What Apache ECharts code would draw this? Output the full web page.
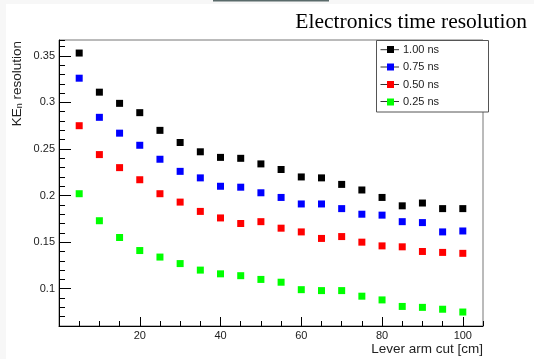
<!DOCTYPE html>
<html>
<head>
<meta charset="utf-8">
<script src="https://cdn.jsdelivr.net/npm/echarts@6/dist/echarts.min.js"></script>
<style>
  html, body { margin: 0; padding: 0; background: #fff; }
  #chart { width: 534px; height: 359px; }
</style>
</head>
<body>
<div id="chart"></div>
<script>
// lever arm cut values [cm]
const cuts = [5, 10, 15, 20, 25, 30, 35, 40, 45, 50, 55, 60, 65, 70, 75, 80, 85, 90, 95, 100];

// KE_n resolution for each electronics time resolution
const res100 = [0.353, 0.311, 0.299, 0.289, 0.270, 0.257, 0.247, 0.241, 0.240, 0.234, 0.228, 0.220, 0.219, 0.212, 0.206, 0.198, 0.189, 0.192, 0.186, 0.186];
const res075 = [0.326, 0.284, 0.267, 0.254, 0.239, 0.226, 0.219, 0.210, 0.209, 0.203, 0.198, 0.191, 0.191, 0.186, 0.180, 0.179, 0.172, 0.171, 0.161, 0.162];
const res050 = [0.275, 0.244, 0.230, 0.217, 0.202, 0.193, 0.183, 0.176, 0.170, 0.172, 0.165, 0.161, 0.154, 0.156, 0.150, 0.146, 0.145, 0.140, 0.139, 0.138];
const res025 = [0.202, 0.173, 0.155, 0.141, 0.134, 0.127, 0.120, 0.116, 0.114, 0.110, 0.107, 0.099, 0.098, 0.098, 0.092, 0.088, 0.081, 0.080, 0.078, 0.075];

const seriesNames = ['1.00 ns', '0.75 ns', '0.50 ns', '0.25 ns'];
const seriesColors = ['#000000', '#0000ff', '#ff0000', '#00ff00'];
const seriesValues = [res100, res075, res050, res025];

const sans = 'Liberation Sans, Arial, Helvetica, sans-serif';

const chart = echarts.init(document.getElementById('chart'));

// legend rows (y centres) for the little line through each marker
const legendRows = [49.7, 67, 84.5, 101.5];

const option = {
    animation: false,
    backgroundColor: '#fff',
    title: {
        text: 'Electronics time resolution',
        right: 7,
        top: 11,
        padding: 0,
        textStyle: { fontFamily: 'Liberation Serif, Times New Roman, serif', fontSize: 21.5, fontWeight: 'normal', color: '#000' }
    },
    grid: {
        left: 59, right: 51, top: 40, bottom: 33,
        show: true, borderColor: '#777', borderWidth: 1, backgroundColor: 'transparent'
    },
    legend: {
        orient: 'vertical',
        left: 387,
        top: 43.5,
        padding: 0,
        itemGap: 5.5,
        itemWidth: 7,
        itemHeight: 7,
        icon: 'rect',
        z: 5,
        textStyle: { fontFamily: sans, fontSize: 11, color: '#222', lineHeight: 12, padding: [0, 0, 0, 4] },
        data: seriesNames
    },
    xAxis: [
        {
            type: 'value', min: 0, max: 105, interval: 20,
            axisLine: { lineStyle: { color: '#000', width: 1 } },
            axisTick: { inside: true, length: 9, lineStyle: { color: '#000' } },
            axisLabel: { showMinLabel: false, showMaxLabel: false, margin: 4, fontFamily: sans, fontSize: 11, color: '#222' },
            splitLine: { show: false }
        },
        {
            // minor ticks every 5 cm
            type: 'value', min: 0, max: 105, interval: 5, position: 'bottom',
            axisLine: { show: false },
            axisTick: { inside: true, length: 5, lineStyle: { color: '#000' } },
            axisLabel: { show: false },
            splitLine: { show: false }
        }
    ],
    yAxis: [
        {
            type: 'value', min: 0.06, max: 0.367,
            axisLine: { show: true, lineStyle: { color: '#000', width: 1 } },
            axisTick: { show: true, inside: true, length: 12, lineStyle: { color: '#000' } },
            axisLabel: { showMinLabel: false, showMaxLabel: false, margin: 4, fontFamily: sans, fontSize: 11, color: '#222' },
            splitLine: { show: false }
        },
        {
            // minor ticks every 0.01
            type: 'value', min: 0.06, max: 0.367, interval: 0.01, position: 'left',
            axisLine: { show: false },
            axisTick: { show: true, inside: true, length: 6, lineStyle: { color: '#000' } },
            axisLabel: { show: false },
            splitLine: { show: false }
        }
    ],
    series: seriesValues.map((vals, i) => ({
        name: seriesNames[i],
        type: 'scatter',
        symbol: 'rect',
        symbolSize: 7,
        itemStyle: { color: seriesColors[i], opacity: 1 },
        data: cuts.map((c, j) => [c, vals[j]])
    })),
    graphic: [
        // page margins
        { type: 'rect', shape: { x: 0, y: 0, width: 6, height: 359 }, style: { fill: '#f7f7f7' }, z: 0 },
        { type: 'rect', shape: { x: 0, y: 0, width: 534, height: 4 }, style: { fill: '#f7f7f7' }, z: 0 },
        { type: 'rect', shape: { x: 213, y: 0, width: 116, height: 1.5 }, style: { fill: '#5a6a6a' }, z: 1 },
        // legend frame
        { type: 'rect', shape: { x: 376.5, y: 40.5, width: 112, height: 71.5 }, style: { fill: '#fff', stroke: '#555', lineWidth: 1 }, z: 3 },
        ...legendRows.map(y => ({
            type: 'line', shape: { x1: 380.5, y1: y, x2: 399, y2: y }, style: { stroke: '#333', lineWidth: 1 }, z: 4
        })),
        // axis titles
        {
            type: 'text', x: 483, y: 349, z: 5,
            style: { text: 'Lever arm cut [cm]', align: 'right', verticalAlign: 'middle', fontFamily: sans, fontSize: 13.5, fill: '#222' }
        },
        {
            type: 'text', x: 17, y: 41, rotation: Math.PI / 2, z: 5,
            style: {
                text: '{a|KE}{s|n}{a| resolution}', align: 'right', verticalAlign: 'middle',
                fill: '#222',
                rich: {
                    a: { fontFamily: sans, fontSize: 13.5, fill: '#222' },
                    s: { fontFamily: sans, fontSize: 9, fill: '#222', padding: [6, 0, 0, 0] }
                }
            }
        }
    ]
};

chart.setOption(option);
</script>
</body>
</html>
